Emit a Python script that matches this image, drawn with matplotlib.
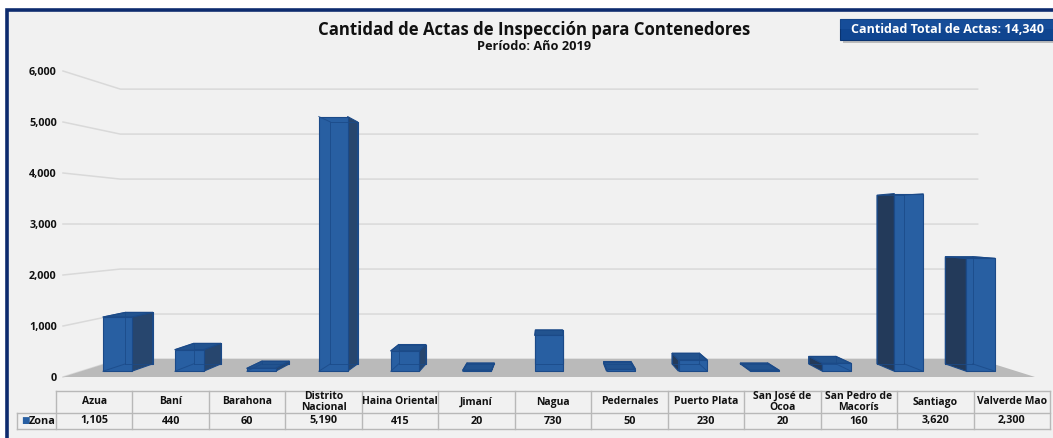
import matplotlib
matplotlib.use('Agg')
import matplotlib.pyplot as plt
from matplotlib.patches import Polygon, Rectangle
from matplotlib.lines import Line2D

# ---------------- data ----------------
zonas = ['Azua', 'Baní', 'Barahona', 'Distrito\nNacional', 'Haina Oriental', 'Jimaní',
         'Nagua', 'Pedernales', 'Puerto Plata', 'San José de\nOcoa', 'San Pedro de\nMacorís',
         'Santiago', 'Valverde Mao']
actas = [1105, 440, 60, 5190, 415, 20, 730, 50, 230, 20, 160, 3620, 2300]
serie = 'Zona'
yticks = [0, 1000, 2000, 3000, 4000, 5000, 6000]
titulo = 'Cantidad de Actas de Inspección para Contenedores'
subtitulo = 'Período: Año 2019'
total_label = 'Cantidad Total de Actas: '

# ---------------- style ----------------
plt.rcParams['font.family'] = ['Open Sans', 'DejaVu Sans']
BG = '#f1f1f1'
FRAME = '#0d2b6e'
FRONT = '#285fa2'
TOPC = '#22538f'
SIDE_R = '#27466e'
SIDE_L = '#233a5a'
EDGE = '#1b4a88'
FLOOR = '#bababa'
GRID = '#d9d9d9'
TABLE_LINE = '#b8b8b8'
TXT = '#111111'

W, H = 1053, 438
fig = plt.figure(figsize=(W / 100, H / 100), dpi=100, facecolor='white')


def fx(px):
    return px / W


def fy(py):
    return 1 - py / H


# background panel with dark frame (left + top visible)
fig.add_artist(Rectangle((fx(6.5), fy(460)), fx(1100), (460 - 10.5) / H,
                         transform=fig.transFigure, facecolor=BG,
                         edgecolor=FRAME, linewidth=2.6, zorder=0))

# ---------------- main (pseudo-3D) axes ----------------
ax = fig.add_axes([fx(63), fy(377), fx(1035) - fx(63), fy(71) - fy(377)])
n = len(zonas)
ax.set_xlim(-0.5, n - 0.5)
ax.set_ylim(yticks[0], yticks[-1])
ax.patch.set_visible(False)
for s in ax.spines.values():
    s.set_visible(False)
ax.set_xticks([])
ax.set_yticks(yticks)
ax.set_yticklabels([f'{v:,}' for v in yticks], fontsize=7.8, fontweight='bold', color=TXT)
ax.tick_params(axis='y', length=0, pad=4.5)

# perspective parameters
KBACK = 0.118              # shrink factor at back wall
CX = (n - 1) / 2           # horizontal vanishing centre (category units)
CV = 2990                  # vertical vanishing centre (value units)
D1, D2 = 0.32, 0.73        # bar front/back depth
HALF = 0.2                 # half bar width (gap width 150%)


def proj(x, v, d):
    k = 1 - KBACK * d
    return (CX + (x - CX) * k, CV + (v - CV) * k)


x_left, x_right = -0.5, n - 0.5
# gridlines: left wall diagonal + back wall horizontal
for v in yticks:
    pts = [proj(x_left, v, 0), proj(x_left, v, 1), proj(x_right, v, 1)]
    ax.add_line(Line2D([p[0] for p in pts], [p[1] for p in pts], color=GRID,
                       lw=1.1, zorder=1, clip_on=False))

# floor
floor = [proj(x_left, 0, 0), proj(x_right, 0, 0), proj(x_right, 0, 1), proj(x_left, 0, 1)]
ax.add_patch(Polygon(floor, closed=True, facecolor=FLOOR, edgecolor='none', zorder=2,
                     clip_on=False))

# bars (draw outer ones first)
order = sorted(range(n), key=lambda i: -abs(i - CX))
for zi, i in enumerate(order):
    v = actas[i]
    x0, x1 = i - HALF, i + HALF
    z = 3 + zi * 0.01
    front = [proj(x0, 0, D1), proj(x1, 0, D1), proj(x1, v, D1), proj(x0, v, D1)]
    back = [proj(x0, 0, D2), proj(x1, 0, D2), proj(x1, v, D2), proj(x0, v, D2)]
    if i < CX - 0.01:
        xs, xh, sc = x1, x0, SIDE_R
    elif i > CX + 0.01:
        xs, xh, sc = x0, x1, SIDE_L
    else:
        xs, xh, sc = None, None, None
    ax.add_patch(Polygon(back, closed=True, facecolor=FRONT, edgecolor=EDGE, lw=0.8,
                         zorder=z, clip_on=False))
    if xs is not None:
        side = [proj(xs, 0, D1), proj(xs, 0, D2), proj(xs, v, D2), proj(xs, v, D1)]
        ax.add_patch(Polygon(side, closed=True, facecolor=sc, edgecolor=EDGE, lw=0.8,
                             zorder=z + 0.001, clip_on=False))
    if v < CV:
        top = [proj(x0, v, D1), proj(x1, v, D1), proj(x1, v, D2), proj(x0, v, D2)]
        ax.add_patch(Polygon(top, closed=True, facecolor=TOPC, edgecolor=EDGE, lw=0.8,
                             zorder=z + 0.002, clip_on=False))
    ax.add_patch(Polygon(front, closed=True, facecolor=FRONT, edgecolor=EDGE, lw=0.8,
                         zorder=z + 0.003, clip_on=False))
    # hidden edges seen through the transparent box
    bx = [p[0] for p in back] + [back[0][0]]
    by = [p[1] for p in back] + [back[0][1]]
    ax.add_line(Line2D(bx, by, color=EDGE, lw=0.7, alpha=0.8, zorder=z + 0.004, clip_on=False))
    if xh is not None:
        for vv in (0, v):
            a, b = proj(xh, vv, D1), proj(xh, vv, D2)
            ax.add_line(Line2D([a[0], b[0]], [a[1], b[1]], color=EDGE, lw=0.7, alpha=0.8,
                               zorder=z + 0.004, clip_on=False))

# ---------------- titles ----------------
fig.text(fx(534), fy(30), titulo, ha='center', va='center', fontsize=12.1,
         fontweight='bold', color=TXT)
fig.text(fx(534), fy(46.5), subtitulo, ha='center', va='center', fontsize=9.2,
         fontweight='bold', color=TXT)

# total box
fig.add_artist(Rectangle((fx(843), fy(42.5)), fx(1060) - fx(843), 21 / H,
                         transform=fig.transFigure, facecolor='#9a9a9a',
                         edgecolor='none', alpha=0.6, zorder=3))
fig.add_artist(Rectangle((fx(840), fy(40)), fx(1060) - fx(840), 21 / H,
                         transform=fig.transFigure, facecolor='#0f4590',
                         edgecolor='#0a3370', lw=0.8, zorder=4))
fig.add_artist(Rectangle((fx(840), fy(29)), fx(1060) - fx(840), 10 / H,
                         transform=fig.transFigure, facecolor='#1d56a3',
                         edgecolor='none', alpha=0.5, zorder=4))
fig.text(fx(947.5), fy(29.5), f'{total_label}{sum(actas):,}', ha='center', va='center',
         fontsize=9, fontweight='bold', color='white', zorder=5)

# ---------------- data table ----------------
tab = fig.add_axes([fx(17), fy(429), fx(1050) - fx(17), fy(391) - fy(429)])
lab_w = 39 / ((1050 - 56) / n)
tab.set_xlim(-lab_w, n)
HDR, ROW = 22, 16
tab.set_ylim(HDR + ROW, 0)
tab.axis('off')
lk = dict(color=TABLE_LINE, lw=1.0, clip_on=False)
tab.plot([0, n], [0, 0], **lk)
tab.plot([-lab_w, n], [HDR, HDR], **lk)
tab.plot([-lab_w, n], [HDR + ROW, HDR + ROW], **lk)
tab.plot([-lab_w, -lab_w], [HDR, HDR + ROW], **lk)
for j in range(n + 1):
    tab.plot([j, j], [0, HDR + ROW], **lk)
for j, (name, val) in enumerate(zip(zonas, actas)):
    tab.text(j + 0.5, HDR / 2, name, ha='center', va='center', fontsize=7.5,
             fontweight='bold', color=TXT, linespacing=0.98)
    tab.text(j + 0.5, HDR + ROW / 2, f'{val:,}', ha='center', va='center', fontsize=7.8,
             fontweight='bold', color=TXT)
tab.text(-lab_w + 0.05, HDR + ROW / 2, '■', ha='left', va='center', fontsize=6.5,
         color=FRONT, family='DejaVu Sans')
tab.text(-lab_w + 0.15, HDR + ROW / 2, serie, ha='left', va='center', fontsize=7.8,
         fontweight='bold', color=TXT)

fig.savefig('out.png', dpi=100, facecolor='white')
